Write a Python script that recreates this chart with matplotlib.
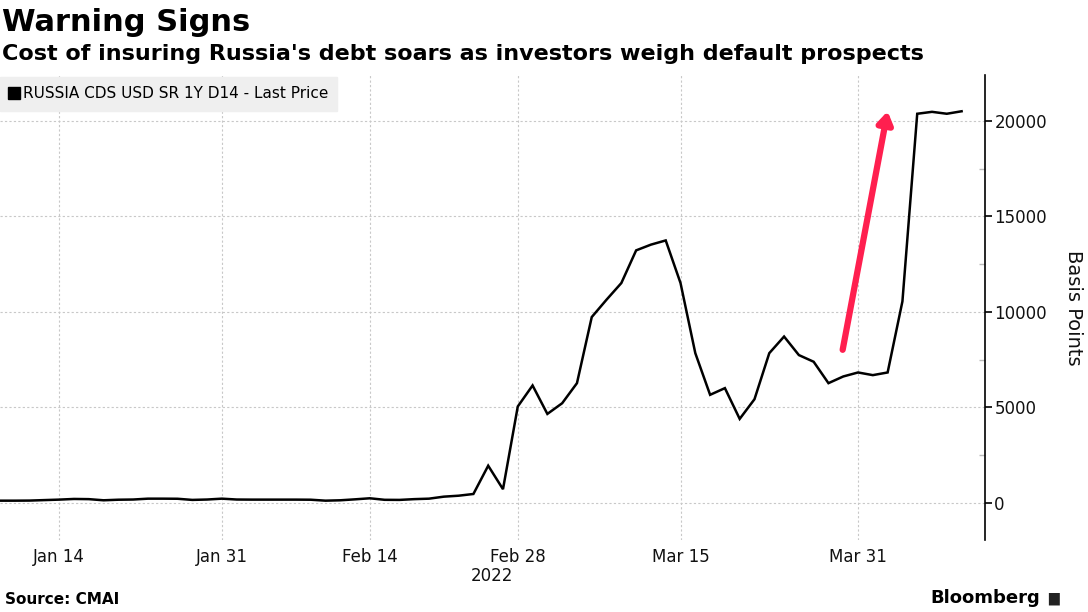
import matplotlib
matplotlib.use("Agg")
import matplotlib.pyplot as plt
from matplotlib.lines import Line2D
from matplotlib.ticker import MultipleLocator
import numpy as np

# Business-day index (0 = Jan 10 2022 ... 65 = Apr 11 2022)
cds_values = [120, 120, 125, 150, 175, 210, 200, 140, 170, 180,
              225, 225, 220, 160, 180, 225, 180, 175, 175, 175,
              175, 170, 120, 140, 190, 245, 165, 160, 200, 225,
              330, 380, 470, 1950, 720, 5050, 6150, 4660, 5220, 6270,
              9730, 10640, 11510, 13220, 13520, 13740, 11510, 7840, 5660, 6010,
              4400, 5430, 7840, 8710, 7740, 7390, 6270, 6620, 6830, 6690,
              6830, 10550, 20370, 20470, 20370, 20500]
day_index = list(range(len(cds_values)))

tick_positions = [4, 15, 25, 35, 46, 58]
tick_labels = ["Jan 14", "Jan 31", "Feb 14", "Feb 28", "Mar 15", "Mar 31"]
y_ticks = [0, 5000, 10000, 15000, 20000]

arrow_start = (56.96, 8015)
arrow_end = (60.0, 20500)

title = "Warning Signs"
subtitle = "Cost of insuring Russia's debt soars as investors weigh default prospects"
series_name = "RUSSIA CDS USD SR 1Y D14 - Last Price"

fig = plt.figure(figsize=(10.88, 6.12), dpi=100)
ax = fig.add_axes([0.0, 0.1176, 0.9049, 0.7599])

ax.plot(day_index, cds_values, color="black", lw=1.8, solid_joinstyle="miter")

ax.set_xlim(0, 66.55)
ax.set_ylim(-1940, 22400)

ax.set_xticks(tick_positions)
ax.set_xticklabels(tick_labels)
ax.set_yticks(y_ticks)
ax.yaxis.set_minor_locator(MultipleLocator(2500))
ax.yaxis.tick_right()
ax.yaxis.set_label_position("right")

for s in ["top", "left", "bottom"]:
    ax.spines[s].set_visible(False)
ax.spines["right"].set_linewidth(1.2)

ax.tick_params(axis="x", length=0, pad=6, labelsize=12, labelcolor="#111111")
ax.tick_params(axis="y", which="major", direction="out", length=5, width=1.2,
               labelsize=12, pad=2, labelcolor="#111111")
ax.tick_params(axis="y", which="minor", direction="in", length=4, width=1.0,
               color="#bbbbbb")

ax.grid(True, which="major", color="#c8c8c8", lw=0.8, linestyle=(0, (2, 2)))
ax.set_axisbelow(True)

ax.set_ylabel("Basis Points", rotation=-90, fontsize=14, labelpad=26, color="#111111")

ax.annotate("", xy=arrow_end, xytext=arrow_start,
            arrowprops=dict(arrowstyle="-|>,head_width=0.45,head_length=0.7",
                            color="#ff1f4f", lw=4.5, shrinkA=0, shrinkB=0))

handle = Line2D([], [], color="black", marker="s", markersize=8, linestyle="None")
leg = ax.legend([handle], [series_name], loc="upper left", bbox_to_anchor=(0.0, 0.995),
                frameon=True, fancybox=False, facecolor="#efefef", edgecolor="#efefef",
                fontsize=11, handlelength=0.6, handletextpad=0.3, borderpad=0.6,
                borderaxespad=0.0)
leg.get_frame().set_alpha(1)

fig.text(0.002, 0.964, title, fontsize=22, fontweight="bold", ha="left", va="center",
         family=["Liberation Sans Narrow", "DejaVu Sans"])
fig.text(0.002, 0.912, subtitle, fontsize=16, fontweight="bold", ha="left", va="center",
         family=["Liberation Sans Narrow", "DejaVu Sans"])

fig.text(471 / 1088, 1 - 576 / 612, "2022", fontsize=12, ha="left", va="center",
         color="#111111")

fig.text(5 / 1088, 1 - 600 / 612, "Source: CMAI", fontsize=11, fontweight="bold",
         ha="left", va="center")
fig.text(1040 / 1088, 1 - 598 / 612, "Bloomberg", fontsize=13, fontweight="bold",
         ha="right", va="center")
fig.text(1048 / 1088, 1 - 598 / 612, "\u2587", fontsize=10, ha="left", va="center",
         color="#222222")

fig.savefig("out.png", dpi=100)
